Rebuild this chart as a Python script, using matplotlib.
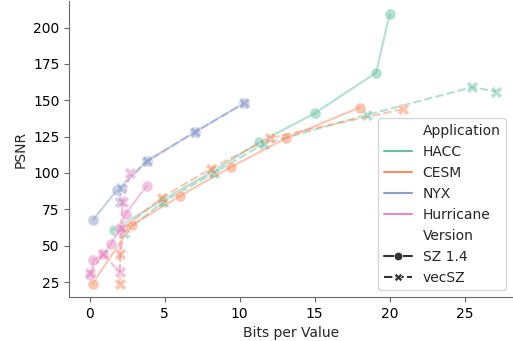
import numpy as np
import pandas as pd
import matplotlib
matplotlib.use("Agg")
import matplotlib.pyplot as plt
import seaborn as sns

# Valores (bits por valor, PSNR)
hacc_sz_bits = [1.6, 4.8, 8.2, 11.3, 15.0, 19.1, 20.0]
hacc_sz_psnr = [61, 81, 101, 121, 141, 169, 209]
hacc_vec_bits = [2.3, 4.9, 8.3, 11.6, 18.5, 25.5, 27.1]
hacc_vec_psnr = [59, 80, 100, 120, 140, 159, 156]

cesm_sz_bits = [0.2, 2.8, 6.0, 9.4, 13.1, 18.0]
cesm_sz_psnr = [24, 64, 84, 104, 124, 145]
cesm_vec_bits = [2.0, 2.05, 2.3, 4.8, 8.1, 12.0, 20.9]
cesm_vec_psnr = [24, 44, 62, 83, 103, 124, 144]

nyx_sz_bits = [0.25, 1.8, 3.8, 7.0, 10.3]
nyx_sz_psnr = [68, 88, 108, 128, 148]
nyx_vec_bits = [2.0, 2.1, 3.8, 7.0, 10.3]
nyx_vec_psnr = [80, 90, 108, 128, 148]

hur_sz_bits = [0.05, 0.25, 0.9, 1.4, 2.0, 2.4, 3.8]
hur_sz_psnr = [30, 40, 44, 51, 61, 72, 91]
hur_vec_bits = [0.0, 0.9, 2.0, 2.07, 2.2, 2.7]
hur_vec_psnr = [31, 44, 32, 62, 80, 100]

versoes = ["SZ 1.4", "vecSZ"]
aplicacoes = ["HACC", "CESM", "NYX", "Hurricane"]

series = [
    ("HACC", "SZ 1.4", hacc_sz_bits, hacc_sz_psnr),
    ("HACC", "vecSZ", hacc_vec_bits, hacc_vec_psnr),
    ("CESM", "SZ 1.4", cesm_sz_bits, cesm_sz_psnr),
    ("CESM", "vecSZ", cesm_vec_bits, cesm_vec_psnr),
    ("NYX", "SZ 1.4", nyx_sz_bits, nyx_sz_psnr),
    ("NYX", "vecSZ", nyx_vec_bits, nyx_vec_psnr),
    ("Hurricane", "SZ 1.4", hur_sz_bits, hur_sz_psnr),
    ("Hurricane", "vecSZ", hur_vec_bits, hur_vec_psnr),
]

linhas = []
for app, ver, bits, psnr in series:
    for b, p in zip(bits, psnr):
        linhas.append({"Application": app, "Version": ver,
                       "Bits per Value": b, "PSNR": p})
df = pd.DataFrame(linhas)

sns.set_style("ticks")
plt.rcParams["axes.edgecolor"] = "0.4"
plt.rcParams["xtick.color"] = "0.4"
plt.rcParams["ytick.color"] = "0.4"
plt.rcParams["xtick.labelcolor"] = "black"
plt.rcParams["ytick.labelcolor"] = "black"

fig = plt.figure(figsize=(5.13, 3.41), dpi=100)
ax = fig.add_axes([69.2 / 513, 44 / 341, (513 - 69.2) / 513, (341 - 44 - 1) / 341])

sns.lineplot(data=df, x="Bits per Value", y="PSNR", hue="Application",
             style="Version", hue_order=aplicacoes, style_order=versoes,
             markers=True, palette="Set2", alpha=0.5, markersize=8,
             estimator=None, sort=True, ax=ax)

ax.set_xlim(-1.36, 28.23)
ax.set_ylim(14.75, 218.25)
ax.set_xticks([0, 5, 10, 15, 20, 25])
ax.set_yticks([25, 50, 75, 100, 125, 150, 175, 200])
sns.despine(ax=ax)

# Legenda com marcadores menores e opacos
leg = ax.legend(loc="lower right", fontsize=10)
for h in leg.legend_handles:
    h.set_alpha(1)
    h.set_markersize(6)
    h.set_markeredgewidth(0.4)

fig.savefig("out.png", dpi=100)
